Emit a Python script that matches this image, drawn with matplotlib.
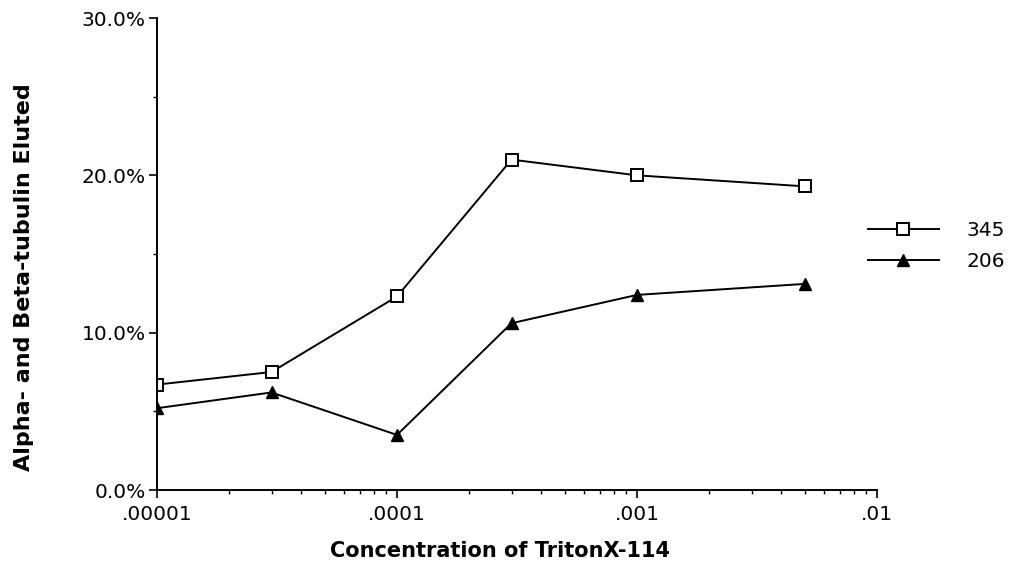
import matplotlib
matplotlib.use("Agg")
import matplotlib.pyplot as plt
from matplotlib.ticker import FixedLocator, FixedFormatter, LogLocator, NullFormatter, MultipleLocator

plt.rcParams['font.family'] = ['DejaVu Sans']

concentration = [1e-5, 3e-5, 1e-4, 3e-4, 1e-3, 5e-3]
series_345 = [6.7, 7.5, 12.3, 21.0, 20.0, 19.3]
series_206 = [5.2, 6.2, 3.5, 10.6, 12.4, 13.1]
x_ticks = [1e-5, 1e-4, 1e-3, 1e-2]
x_tick_labels = ['.00001', '.0001', '.001', '.01']
y_ticks = [0, 10, 20, 30]
y_tick_labels = ['0.0%', '10.0%', '20.0%', '30.0%']

fig = plt.figure(figsize=(10.09, 5.70), dpi=100)
ax = fig.add_axes([157/1009, 80/570, 720/1009, 472/570])

ax.plot(concentration, series_345, color='black', lw=1.4, marker='s', ms=9,
        mfc='white', mec='black', mew=1.4, label='345')
ax.plot(concentration, series_206, color='black', lw=1.4, marker='^', ms=9,
        mfc='black', mec='black', label='206')

ax.set_xscale('log')
ax.set_xlim(1e-5, 1e-2)
ax.set_ylim(0, 30)
ax.xaxis.set_major_locator(FixedLocator(x_ticks))
ax.xaxis.set_major_formatter(FixedFormatter(x_tick_labels))
ax.xaxis.set_minor_locator(LogLocator(base=10, subs=range(2, 10)))
ax.xaxis.set_minor_formatter(NullFormatter())
ax.yaxis.set_major_locator(FixedLocator(y_ticks))
ax.yaxis.set_major_formatter(FixedFormatter(y_tick_labels))
ax.yaxis.set_minor_locator(MultipleLocator(5))

for s in ['top', 'right']:
    ax.spines[s].set_visible(False)
for s in ['left', 'bottom']:
    ax.spines[s].set_linewidth(1.4)

ax.tick_params(axis='both', which='major', direction='out', length=6, width=1.2,
               labelsize=14.5, colors='black', pad=2)
ax.tick_params(axis='x', which='major', pad=5)
ax.tick_params(axis='both', which='minor', direction='out', length=3, width=1.0)

ax.set_xlabel('Concentration of TritonX-114', fontsize=15, fontweight='bold')
ax.xaxis.set_label_coords((500-157)/720, (490-541)/472)
ax.set_ylabel('Alpha- and Beta-tubulin Eluted', fontsize=16, fontweight='bold')
ax.yaxis.set_label_coords(-123/720, (490-277)/472)

leg = ax.legend(loc='center left', bbox_to_anchor=(693/720, (490-246)/472),
                frameon=False, fontsize=14.5, handlelength=3.5, handletextpad=1.4,
                labelspacing=0.6)

fig.savefig('out.png', dpi=100)
